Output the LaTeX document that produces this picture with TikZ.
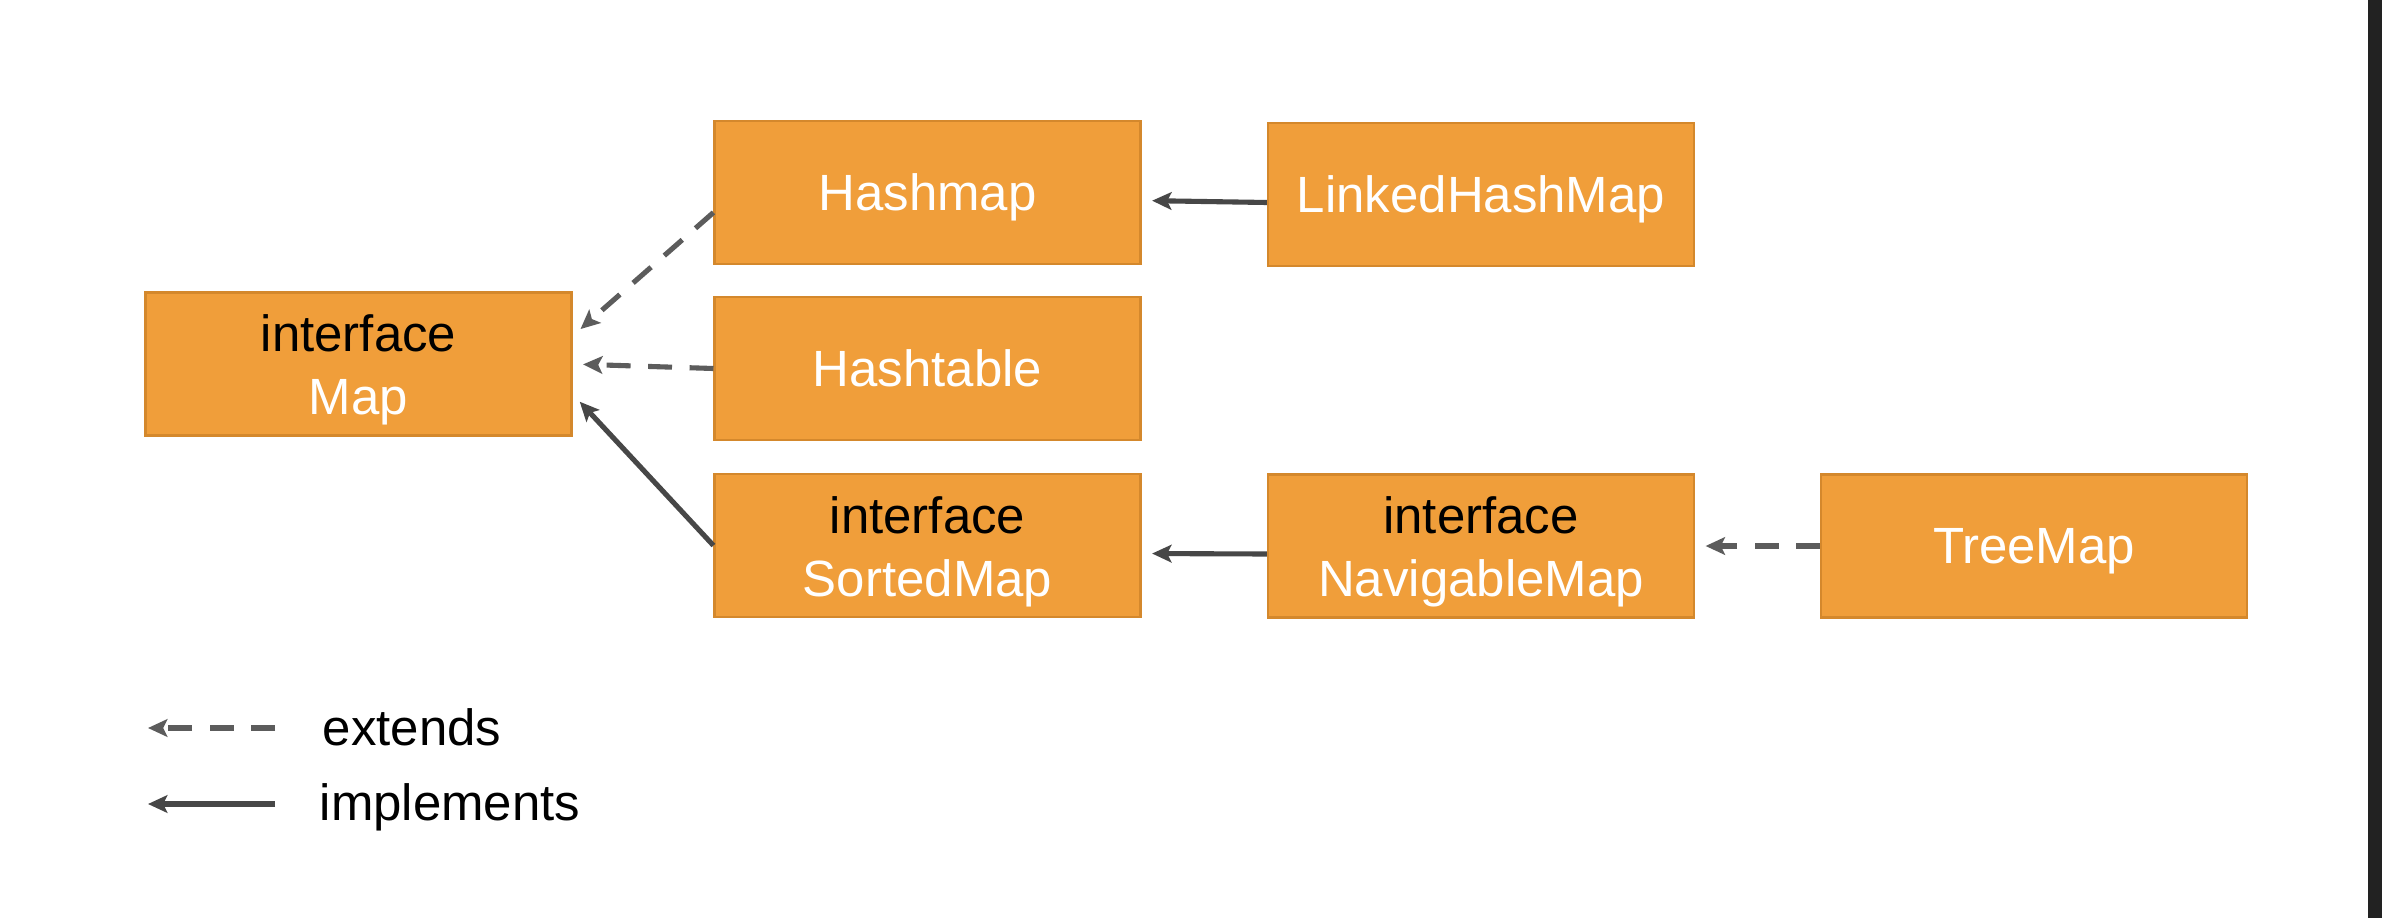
\documentclass[tikz,border=0pt]{standalone}
\usepackage{fontspec}
\setmainfont{Liberation Sans}
\usetikzlibrary{arrows.meta, positioning}
\definecolor{boxorange}{HTML}{F09E3A}
\definecolor{boxedge}{HTML}{D4882C}
\definecolor{arrowgray}{HTML}{474747}
\definecolor{dashgray}{HTML}{5C5C5C}
\definecolor{stripdark}{HTML}{222222}
\newcommand{\iface}[1]{\textcolor{black}{\rule{0pt}{14pt}interface}\\#1}

\begin{document}
\begin{tikzpicture}[
  cls/.style={rectangle, draw=boxedge, fill=boxorange, line width=0.6pt,
              minimum width=4.26cm, minimum height=1.43cm, inner sep=0pt,
              align=center, text=white, font=\fontsize{14.5}{18}\selectfont},
  single/.style={cls, text depth=0pt},
  impl/.style={-{Stealth[length=5.5pt, width=5pt, inset=1.2pt]},
               line width=1.45pt, color=arrowgray, shorten >=3pt},
  ext/.style={impl, color=dashgray, dash pattern=on 6.8pt off 5pt},
  lbl/.style={anchor=base west, inner sep=0pt, font=\fontsize{14.5}{17.5}\selectfont},
]
%% --- canvas ---
\useasboundingbox (0,0) rectangle (23.82,-9.18);
\fill[white] (0,0) rectangle (23.82,-9.18);
\fill[stripdark] (23.68,0) rectangle (23.82,-9.18);

%% --- classes ---
\node[cls]    (map) at (3.585,-3.64) {\iface{Map}};
\node[single] (hm)  at (9.275,-1.925) {Hashmap};
\node[single] (ht)  at (9.275,-3.685) {Hashtable};
\node[cls]    (sm)  at (9.275,-5.455) {\iface{SortedMap}};
\node[single] (lhm) at (14.81,-1.945) {LinkedHashMap};
\node[cls]    (nm)  at (14.81,-5.46) {\iface{NavigableMap}};
\node[single] (tm)  at (20.34,-5.46) {TreeMap};

%% --- relations ---
\draw[ext]  ([yshift=-0.2cm]hm.west) -- ([yshift=0.28cm]map.east);
\draw[ext]  (ht.west) -- (map.east);
\draw[impl] (sm.west) -- ([yshift=-0.30cm]map.east);
\draw[impl] ([yshift=-0.08cm]lhm.west) -- ([yshift=-0.08cm]hm.east);
\draw[impl] ([yshift=-0.08cm]nm.west) -- ([yshift=-0.08cm]sm.east);
\draw[ext]  (tm.west) -- (nm.east);

%% --- legend ---
\coordinate (ext-r) at (2.75,-7.28);
\coordinate (ext-l) at (1.48,-7.28);
\coordinate (impl-r) at (2.75,-8.04);
\coordinate (impl-l) at (1.48,-8.04);
\draw[ext, shorten >=0pt]  (ext-r) -- (ext-l);
\draw[impl, shorten >=0pt] (impl-r) -- (impl-l);
\node[lbl] (ext-t)  at (3.22,-7.45) {extends};
\node[lbl] (impl-t) at (3.19,-8.20) {implements};
\end{tikzpicture}
\end{document}
